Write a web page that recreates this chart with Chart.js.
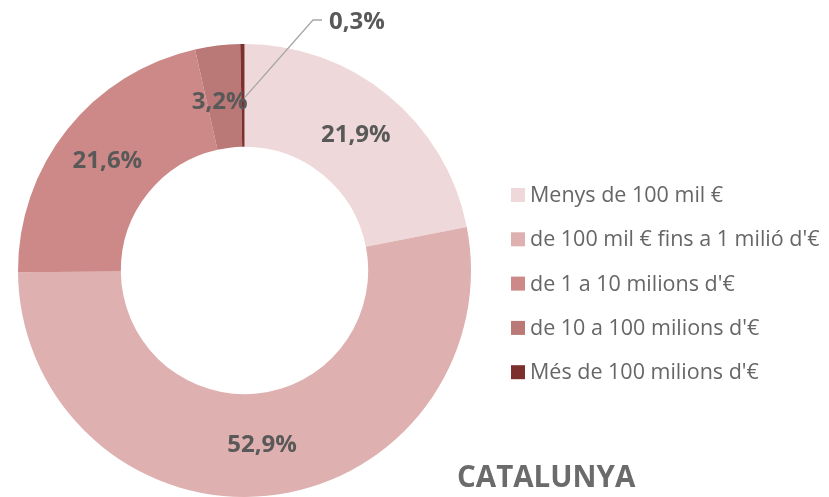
<!DOCTYPE html>
<html>
<head>
<meta charset="utf-8">
<script src="https://cdn.jsdelivr.net/npm/chart.js@4"></script>
<style>
  html, body { margin: 0; padding: 0; background: #fff; }
  #wrap { width: 829px; height: 497px; position: relative; }
</style>
</head>
<body>
<div id="wrap"><canvas id="donut"></canvas></div>
<script>
const categories = [
  'Menys de 100 mil €',
  "de 100 mil € fins a 1 milió d'€",
  "de 1 a 10 milions d'€",
  "de 10 a 100 milions d'€",
  "Més de 100 milions d'€"
];
const shares = [21.9, 52.9, 21.6, 3.2, 0.3];
const labels = ['21,9%', '52,9%', '21,6%', '3,2%', '0,3%'];
const colors = ['#EED8D9', '#DEB0AF', '#CD8987', '#BA7876', '#7D2F2E'];
const title = 'CATALUNYA';

// labels, leader line, legend and title drawn on top
const overlay = {
  id: 'overlay',
  afterDatasetsDraw(chart) {
    const c = chart.ctx;
    const arcs = chart.getDatasetMeta(0).data;
    c.save();
    c.fillStyle = '#595959';
    c.font = 'bold 24px "Open Sans"';
    c.textAlign = 'center';
    c.textBaseline = 'middle';
    arcs.forEach((arc, i) => {
      const p = arc.tooltipPosition();
      if (i === 4) {
        c.strokeStyle = '#A6A6A6';
        c.lineWidth = 1.3;
        c.beginPath();
        c.moveTo(p.x + 2, p.y + 2);
        c.lineTo(313, 20);
        c.lineTo(322, 20);
        c.stroke();
        c.textAlign = 'left';
        c.fillText(labels[i], 329, 22);
        c.textAlign = 'center';
      } else if (i === 3) {
        c.fillText(labels[i], p.x - 4, p.y + 5);
      } else {
        c.fillText(labels[i], p.x, p.y);
      }
    });

    c.font = '21.5px "Open Sans"';
    c.textAlign = 'left';
    categories.forEach((name, i) => {
      const y = 195 + i * 44.3;
      c.fillStyle = colors[i];
      c.fillRect(511, y - 7, 14, 14);
      c.fillStyle = '#666666';
      c.fillText(name, 530, y + 1);
    });

    c.font = 'bold 29.5px "Open Sans"';
    c.fillStyle = '#6B6B6B';
    c.fillText(title, 457, 479);
    c.restore();
  }
};

new Chart(document.getElementById('donut'), {
  type: 'doughnut',
  data: {
    labels: categories,
    datasets: [{
      data: shares,
      backgroundColor: colors,
      borderWidth: 0
    }]
  },
  options: {
    responsive: true,
    maintainAspectRatio: false,
    animation: false,
    cutout: '54.6%',
    layout: { padding: { top: 44, bottom: 0, left: 17, right: 357 } },
    plugins: {
      legend: { display: false },
      tooltip: { enabled: false }
    }
  },
  plugins: [overlay]
});
</script>
</body>
</html>
